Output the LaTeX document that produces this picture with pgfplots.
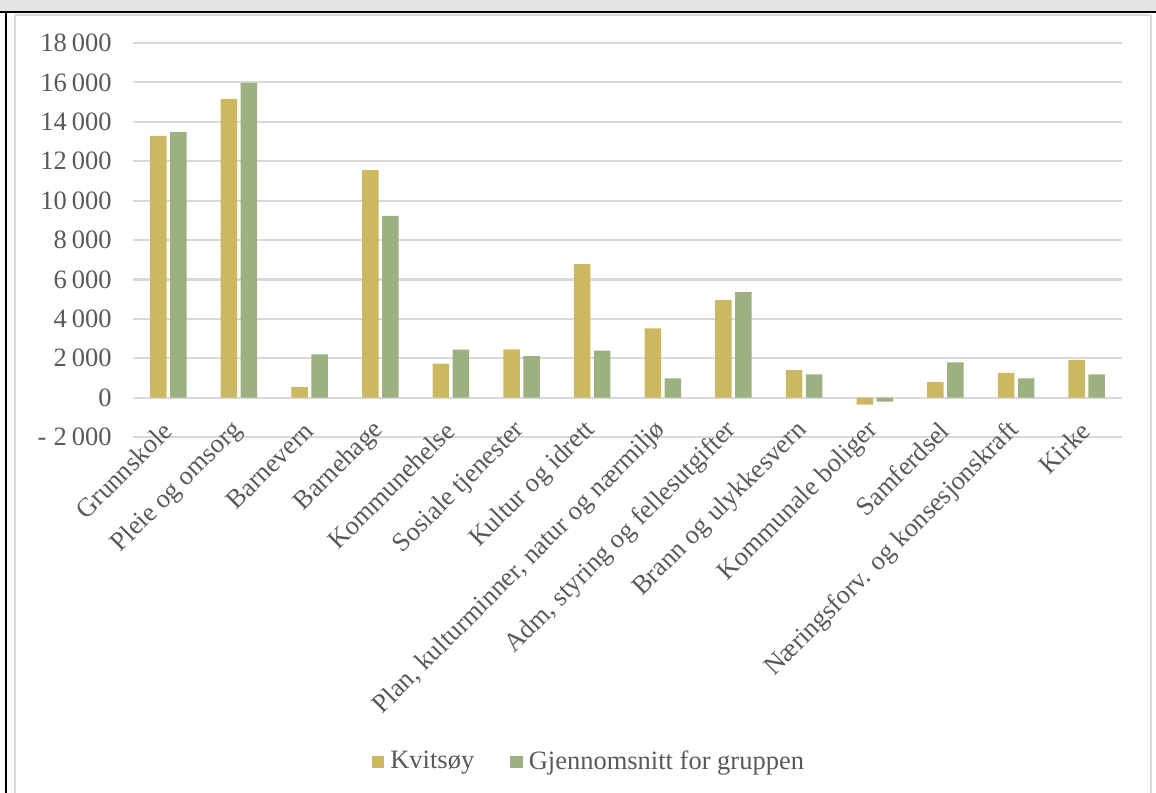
\documentclass[border=0pt]{standalone}
\usepackage{fontspec}
\setmainfont{Liberation Serif}
\usepackage{pgfplots}
\pgfplotsset{compat=1.18}

\definecolor{kvit}{RGB}{205,184,98}
\definecolor{snitt}{RGB}{157,176,128}
\definecolor{txtgrey}{RGB}{89,89,89}
\definecolor{gridgrey}{RGB}{217,217,217}
\definecolor{bandgrey}{RGB}{228,228,228}
\newcommand{\tsp}{\hspace{2.5bp}}

\begin{document}
\fontsize{13.25bp}{15bp}\selectfont
\begin{tikzpicture}
  \begin{axis}[
      at={(0,0)}, anchor=south west,
      scale only axis, width=494.5bp, height=197bp,
      xmin=-0.5, xmax=13.5, ymin=-2000, ymax=18000,
      scaled y ticks=false,
      axis line style={draw=none},
      tick style={draw=none},
      ymajorgrids, grid style={gridgrey, line width=1.1bp},
      ytick={-2000,0,2000,4000,6000,8000,10000,12000,14000,16000,18000},
      yticklabels={{\makebox[37bp][l]{-\hfill 2\tsp000}},0,2\tsp000,4\tsp000,6\tsp000,8\tsp000,10\tsp000,12\tsp000,14\tsp000,16\tsp000,18\tsp000},
      yticklabel style={anchor=east, inner sep=0pt, xshift=-10.5bp, text=txtgrey},
      xtick={0,...,13},
      xticklabels={Grunnskole,Pleie og omsorg,Barnevern,Barnehage,Kommunehelse,Sosiale tjenester,Kultur og idrett,{Plan, kulturminner, natur og nærmiljø},{Adm, styring og fellesutgifter},Brann og ulykkesvern,Kommunale boliger,Samferdsel,Næringsforv. og konsesjonskraft,Kirke},
      xticklabel style={rotate=45, anchor=east, inner sep=0pt, xshift=3.5bp, yshift=4bp, text=txtgrey},
      bar width=8.25bp,
      legend style={at={(0.460,-0.825)}, anchor=center, draw=none, fill=none,
        legend columns=-1, text=txtgrey, inner sep=0pt, nodes={inner sep=0pt},
        /tikz/every odd column/.append style={column sep=3bp},
        /tikz/every even column/.append style={column sep=18bp}},
      legend image code/.code={\fill[#1] (0bp,-3.1bp) rectangle (6.25bp,3.1bp);},
    ]
    \addplot[ybar, fill=kvit, draw=none, bar shift=-5bp] coordinates {
      (0,13280) (1,15160) (2,530) (3,11550) (4,1720) (5,2450) (6,6780)
      (7,3520) (8,4950) (9,1390) (10,-360) (11,790) (12,1260) (13,1920)
    };
    \addlegendentry{Kvitsøy}
    \addplot[ybar, fill=snitt, draw=none, bar shift=5bp] coordinates {
      (0,13470) (1,15980) (2,2200) (3,9230) (4,2440) (5,2100) (6,2380)
      (7,980) (8,5350) (9,1180) (10,-210) (11,1790) (12,980) (13,1180)
    };
    \addlegendentry{Gjennomsnitt for gruppen}
  \end{axis}
  % frame
  \fill[bandgrey] (-66.5bp,212.5bp) rectangle (511.5bp,218.5bp);
  \draw[gridgrey, line width=1.2bp] (-59bp,211bp) -- (509bp,211bp);
  \draw[gridgrey, line width=1.2bp] (-59bp,211bp) -- (-59bp,-178bp);
  \draw[gridgrey, line width=1.2bp] (509bp,211bp) -- (509bp,-178bp);
  \draw[black, line width=1.3bp] (-66.5bp,212.5bp) -- (511.5bp,212.5bp);
  \draw[black, line width=1.3bp] (-63.5bp,212.5bp) -- (-63.5bp,-178bp);
  \pgfresetboundingbox
  \path[use as bounding box] (-66.5bp,-178bp) rectangle (511.5bp,218.5bp);
\end{tikzpicture}
\end{document}
